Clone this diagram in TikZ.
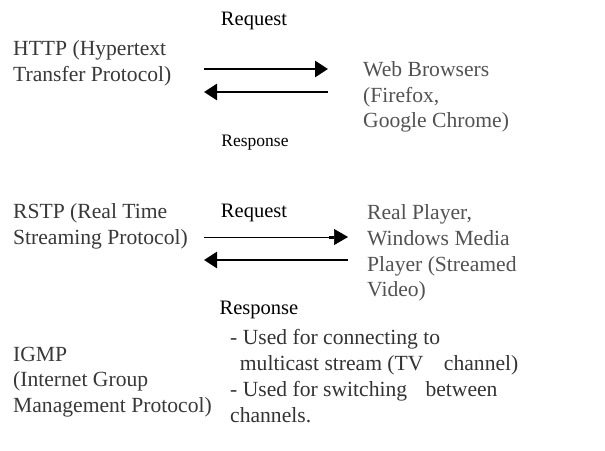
\documentclass[tikz,border=0pt]{standalone}
\usepackage{fontspec}
\setmainfont{Liberation Serif}
\usetikzlibrary{arrows.meta}

\begin{document}
\begin{tikzpicture}[
    x=1pt, y=-1pt,
    % text styles
    proto/.style={anchor=west, align=left, text=black!78, inner sep=0pt,
        font=\fontsize{21.6}{25.8}\selectfont},
    client/.style={proto, text=black!68},
    msg/.style={anchor=center, inner sep=0pt, text=black,
        font=\fontsize{20.5}{24}\selectfont},
    % arrow styles
    bigarrow/.style={line width=2.8pt, -{Triangle[length=13pt,width=16pt]}},
    thinarrow/.style={line width=0.7pt,
        -{Rectangle[length=5pt,width=3pt,sep=0pt]Triangle[length=14pt,width=16pt]}}
]
    \useasboundingbox (0,0) rectangle (605,450);

    % --- HTTP ---
    \node[proto] (http) at (13,63) {HTTP (Hypertext\\Transfer Protocol)};
    \node[client] (browsers) at (363,97) {Web Browsers\\(Firefox,\\Google Chrome)};
    \node[msg] (req1) at (254,21) {Request};
    \node[msg, font=\fontsize{17.5}{20}\selectfont] (resp1) at (255,143) {Response};

    \coordinate (h1a) at (204,69);
    \coordinate (h1b) at (328,69);
    \coordinate (h2a) at (328,92);
    \coordinate (h2b) at (204,92);
    \draw[bigarrow] (h1a) -- (h1b);
    \draw[bigarrow] (h2a) -- (h2b);

    % --- RSTP ---
    \node[proto] (rstp) at (13,226) {RSTP (Real Time\\Streaming Protocol)};
    \node[client] (player) at (367,253) {Real Player,\\Windows Media\\Player (Streamed\\Video)};
    \node[msg] (req2) at (254,213) {Request};
    \node[msg] (resp2) at (259,310) {Response};

    \coordinate (r1a) at (204,237);
    \coordinate (r1b) at (348,237);
    \coordinate (r2a) at (348,260);
    \coordinate (r2b) at (204,260);
    \draw[thinarrow] (r1a) -- (r1b);
    \draw[bigarrow] (r2a) -- (r2b);

    % --- IGMP ---
    \node[proto] (igmp) at (13,382) {IGMP\\(Internet Group\\Management Protocol)};
    \node[proto, text=black!80] (igmpuse) at (230,376)
        {- Used for connecting to\\\hspace*{0.45em}multicast stream (TV\hspace{0.7em} channel)\\- Used for switching\hspace{0.6em} between\\channels.};

\end{tikzpicture}
\end{document}
